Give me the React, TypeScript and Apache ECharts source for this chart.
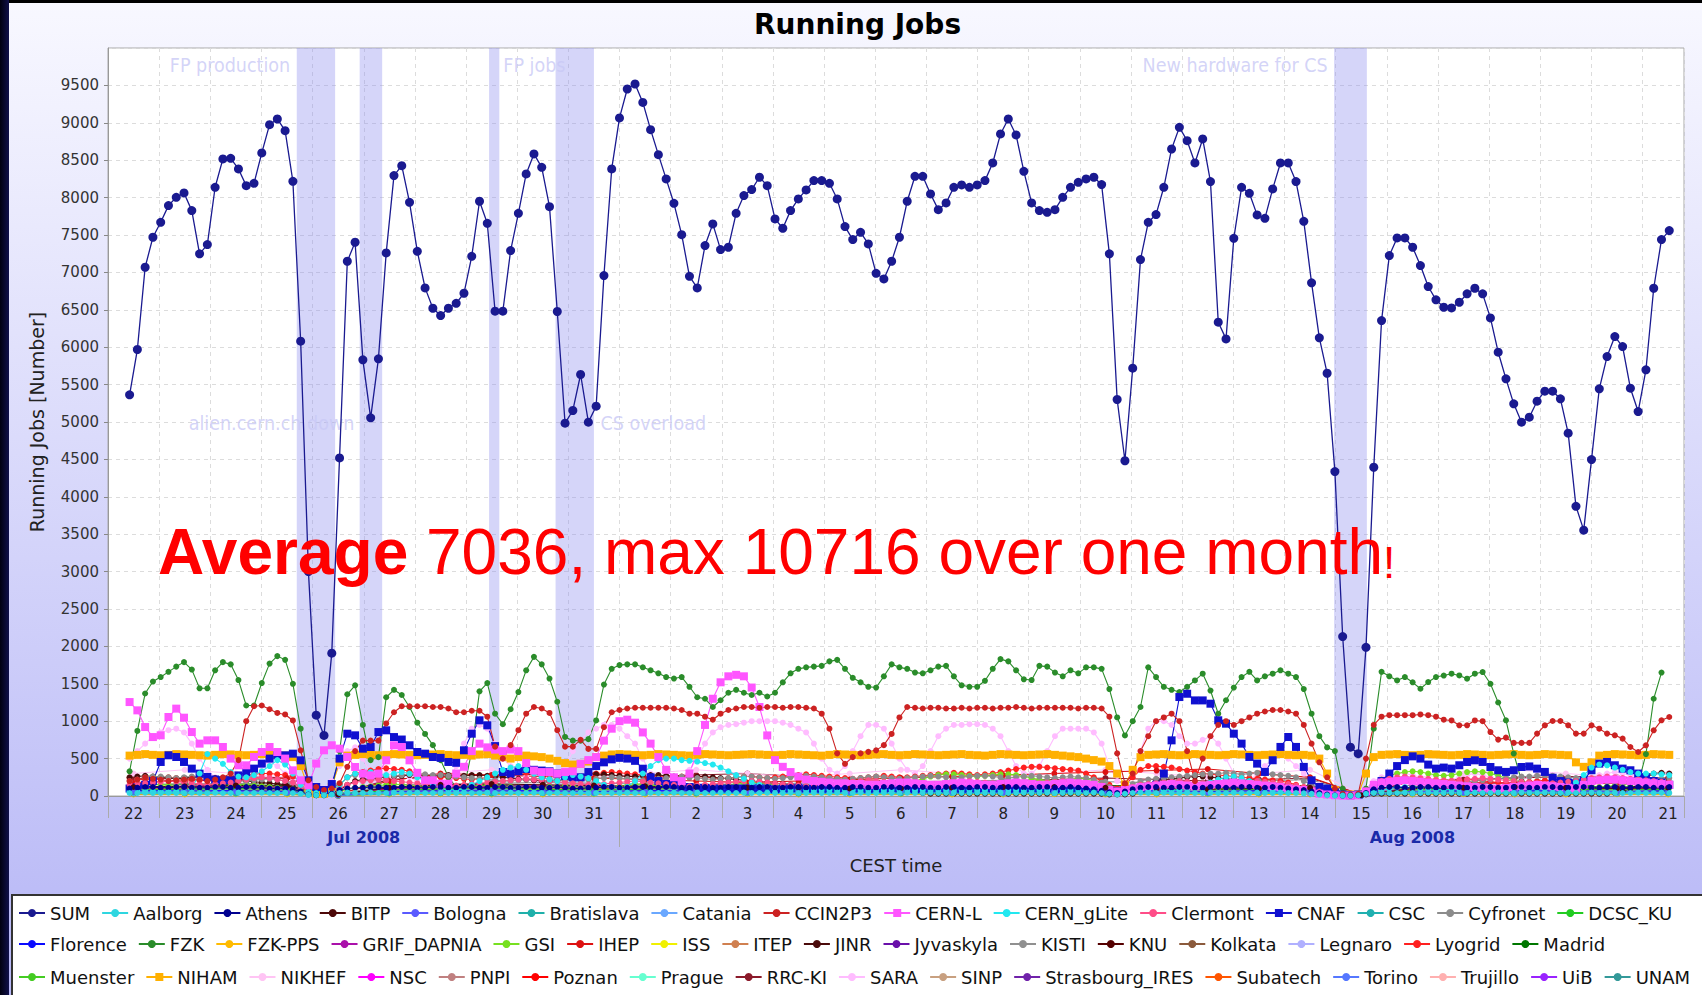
import React, { useEffect, useRef } from 'react';
import * as echarts from 'echarts';

// ---------- axis / time data ----------
const DAY_LABELS = ['22','23','24','25','26','27','28','29','30','31','1','2','3','4','5','6','7','8','9','10','11','12','13','14','15','16','17','18','19','20','21'];
const MONTH_LABELS = [{ at: 5, text: 'Jul 2008' }, { at: 25.5, text: 'Aug 2008' }];
const MONTH_BOUNDARY = [10];
const X_MAX = 30.81;          // days since 22 Jul 00:00
const SAMPLE_START = 0.422;   // first sample (days)
const SAMPLE_STEP = 0.15202;  // sample spacing (days)
const Y_TICKS = { min: 0, max: 10000, step: 500 };

// shaded intervals (days)
const BANDS = [[3.69, 4.44], [4.92, 5.36], [7.45, 7.65], [8.75, 9.5], [23.97, 24.61]];
const NOTES = [
  { text: 'FP production', x: 3.66, y: 9770, side: 'left' },
  { text: 'FP jobs', x: 7.63, y: 9770, side: 'right' },
  { text: 'New hardware for CS', x: 23.94, y: 9770, side: 'left' },
  { text: 'alien.cern.ch down', x: 1.48, y: 4985, side: 'right' },
  { text: 'CS overload', x: 9.53, y: 4985, side: 'right' },
];

// ---------- full-resolution series (one value per sample) ----------
const SUM = [5363,5969,7069,7470,7670,7893,8004,8063,7826,7248,
7372,8138,8517,8525,8383,8160,8191,8597,8975,9051,
8895,8218,6080,3000,1080,810,1910,4520,7149,7403,
5831,5056,5845,7261,8294,8427,7937,7282,6793,6521,
6423,6521,6587,6721,7215,7951,7656,6481,6481,7292,
7790,8316,8584,8405,7879,6477,4984,5154,5635,4998,
5211,6958,8383,9065,9452,9519,9273,8908,8574,8250,
7924,7505,6948,6793,7359,7648,7305,7336,7790,8027,
8107,8272,8160,7715,7590,7826,7982,8103,8227,8227,
8191,7982,7612,7439,7536,7381,6988,6913,7149,7470,
7951,8285,8285,8049,7839,7929,8138,8170,8138,8170,
8227,8463,8851,9051,8838,8351,7929,7826,7803,7839,
8004,8138,8204,8250,8272,8174,7248,5301,4482,5719,
7171,7670,7773,8138,8650,8939,8761,8463,8784,8214,
6334,6111,7456,8138,8057,7769,7723,8116,8463,8463,
8214,7683,6860,6125,5652,4337,2132,653,566,1987,
4395,6356,7225,7461,7461,7336,7091,6811,6633,6534,
6525,6601,6713,6788,6713,6392,5933,5577,5243,4998,
5064,5278,5412,5412,5310,4851,3873,3554,4497,5444,
5875,6142,6009,5452,5140,5698,6788,7439,7559];

const FZK = [330,870,1370,1530,1590,1660,1730,1790,1690,1440,
1440,1680,1790,1760,1550,1210,1210,1510,1770,1870,
1820,1500,900,150,60,40,80,600,1360,1480,
950,480,520,1320,1420,1350,1190,980,830,680,
480,250,120,100,600,1400,1510,1100,960,1160,
1390,1680,1860,1760,1570,1260,790,740,740,760,
1010,1490,1700,1750,1760,1760,1720,1680,1640,1590,
1570,1590,1460,1320,1300,1190,1280,1380,1420,1380,
1350,1380,1330,1380,1520,1640,1700,1720,1730,1740,
1800,1820,1700,1580,1520,1460,1450,1600,1760,1720,
1700,1650,1640,1680,1730,1740,1600,1480,1460,1460,
1540,1700,1830,1800,1680,1560,1550,1740,1730,1650,
1600,1680,1640,1720,1720,1700,1430,1050,810,1000,
1190,1720,1590,1460,1420,1390,1460,1545,1635,1410,
1100,1280,1450,1590,1660,1545,1600,1635,1680,1635,
1590,1430,1100,800,650,600,100,20,20,100,
900,1660,1600,1545,1590,1520,1434,1523,1590,1610,
1635,1612,1568,1635,1657,1500,1250,1012,567,200,
150,150,150,140,130,120,120,130,150,200,
200,200,180,150,160,560,1300,1650,null];

const CCIN2P3 = [200,220,250,230,220,200,210,220,230,220,
200,220,250,300,480,1000,1200,1210,1160,1110,
1090,1010,610,210,120,80,100,170,390,600,
740,740,740,970,1120,1200,1200,1200,1200,1190,
1190,1170,1120,1120,1140,1140,1060,660,500,680,
880,1100,1190,1170,1110,880,660,660,750,630,
630,920,1120,1150,1170,1180,1180,1180,1180,1180,
1170,1150,1100,1100,1060,1020,1100,1150,1170,1190,
1190,1180,1190,1190,1180,1190,1190,1180,1170,1100,
900,570,430,520,570,590,610,680,830,1050,
1190,1180,1170,1180,1180,1170,1170,1180,1170,1180,
1180,1170,1180,1180,1190,1180,1170,1180,1180,1180,
1180,1180,1170,1180,1180,1170,1060,570,170,300,
600,800,1000,1050,1100,1000,600,200,500,800,
950,1000,950,1000,1050,1100,1130,1150,1150,1130,
1100,950,700,450,250,100,30,20,30,500,
950,1060,1080,1080,1080,1080,1090,1080,1060,1020,
1010,945,945,1010,1000,855,754,780,710,710,
710,834,945,1003,1003,945,834,834,945,900,
834,811,767,655,588,678,878,1012,1056];

const NIHAM = [540,550,560,550,545,550,560,555,550,545,
540,550,560,555,550,545,550,560,550,545,
540,520,400,100,30,30,120,450,540,550,
560,550,545,550,560,555,550,545,550,555,
560,550,545,550,540,555,560,540,520,500,
520,540,530,520,500,470,440,420,430,460,
520,540,555,560,555,550,545,550,560,555,
550,545,540,550,560,555,550,545,550,555,
560,555,550,545,550,560,555,550,545,540,
550,560,555,550,545,550,555,560,550,545,
550,560,555,550,545,550,555,560,550,545,
540,550,560,555,550,545,550,555,560,550,
540,530,520,500,480,460,400,300,150,350,
520,550,555,560,550,545,550,560,555,550,
545,550,560,555,550,545,550,555,560,550,
545,550,540,500,300,80,20,20,20,300,
520,550,555,560,550,545,550,560,555,550,
545,550,560,555,550,545,550,555,560,550,
545,550,560,555,550,545,450,390,450,540,
550,560,555,550,545,550,560,555,550];

const CERN_L = [1256,1145,922,788,811,1056,1168,1047,855,700,
744,744,655,500,410,410,521,588,655,588,
500,343,210,143,433,611,678,633,521,388,
299,276,299,477,678,655,477,310,210,210,
165,165,300,390,600,700,650,620,600,620,
600,440,340,320,320,300,320,330,430,480,
520,740,900,1000,1020,980,850,700,520,350,
250,200,300,600,950,1300,1520,1600,1620,1600,
1450,1190,810,480,390,320,260,220,200,190,
180,170,170,160,160,150,150,160,170,180,
180,170,160,150,150,160,170,180,170,160,
150,150,160,170,180,170,160,150,150,160,
170,180,170,160,150,120,80,60,80,100,
120,130,140,150,160,150,140,130,140,150,
160,170,180,170,160,150,140,130,120,100,
90,80,60,30,20,10,5,5,10,60,
150,180,190,200,210,200,190,180,170,160,
150,140,130,120,110,100,100,110,120,130,
140,150,140,130,120,110,100,150,200,210,
220,220,210,200,190,180,170,160,150];

const CNAF = [100,120,150,200,455,544,521,455,366,299,
255,221,210,210,275,320,366,433,500,544,
544,566,477,210,120,80,160,500,833,811,
633,655,855,878,788,755,678,588,566,521,
510,455,444,611,833,1012,945,667,321,300,
330,360,350,340,330,300,270,250,250,320,
400,450,490,510,500,470,365,250,200,160,
150,130,120,110,110,100,100,100,100,100,
100,110,100,90,100,100,110,100,100,90,
100,100,110,100,100,90,100,100,110,100,
100,90,100,100,110,100,100,90,100,100,
110,100,100,90,100,100,110,100,100,90,
100,100,110,100,100,90,80,60,70,90,
100,120,150,300,744,1323,1367,1278,1278,1234,
1012,967,833,700,522,433,322,478,656,789,
656,389,210,120,100,50,20,10,20,50,
100,200,300,400,480,530,500,420,366,380,
366,411,455,477,455,388,344,322,344,388,
395,366,322,244,200,180,170,210,344,433,
455,411,366,344,300,250,200,180,150];

const SARA = [500,600,700,800,850,880,900,850,700,500,
350,250,200,200,250,300,350,400,450,400,
300,200,100,50,50,100,200,400,600,650,
500,300,250,300,350,300,250,200,150,150,
150,200,400,700,900,950,900,700,500,400,
300,250,200,200,250,300,400,600,750,850,
900,950,950,900,800,700,500,300,250,200,
200,250,350,500,700,850,920,950,960,980,
1000,1000,1000,1000,980,950,900,850,700,500,
350,300,400,600,800,950,950,900,700,500,
350,300,400,600,800,900,950,950,960,960,
950,900,800,600,400,300,300,400,600,800,
900,900,900,900,850,700,400,200,150,300,
600,900,1000,1000,950,800,700,700,750,800,
700,500,300,200,200,300,400,500,600,500,
400,300,200,150,100,50,30,30,30,100,
200,250,280,300,300,280,250,220,200,200,
220,250,280,300,280,250,220,200,200,220,
250,280,300,280,250,220,200,220,250,280,
300,320,300,280,250,220,200,200,200];

const CERN_GLITE = [60,60,60,60,60,60,60,60,100,300,
560,500,430,320,260,250,280,330,400,480,
420,300,150,60,40,40,60,150,250,300,
300,320,300,280,300,320,300,250,200,150,
100,80,80,100,150,200,250,300,350,380,
400,350,300,250,220,200,250,280,260,240,
200,150,120,100,120,200,300,400,480,500,
500,480,470,460,440,420,380,330,280,230,
180,150,120,100,90,80,80,80,80,80,
80,80,80,80,80,80,80,80,80,80,
80,80,80,80,80,80,80,80,80,80,
80,80,80,80,80,80,80,80,80,80,
80,80,80,80,80,80,60,40,40,60,
80,80,80,80,80,80,100,120,150,180,
220,250,260,240,200,150,100,80,80,60,
50,40,30,20,10,10,10,10,20,40,
60,80,100,120,120,110,100,100,90,90,
90,90,90,90,90,90,90,90,100,100,
100,100,100,100,100,120,180,280,380,420,
410,380,350,320,300,300,300,290,280];

const ATHENS = [100,110,120,120,110,110,120,120,110,110,
110,120,120,110,110,120,120,110,100,100,
100,90,60,20,10,10,30,80,100,110,
110,120,120,110,110,120,120,110,110,120,
120,110,110,120,120,110,110,120,120,110,
110,120,120,110,110,120,110,100,100,110,
110,120,120,110,110,120,120,110,110,120,
120,110,110,120,120,110,110,120,120,110,
110,120,120,110,110,120,120,110,110,120,
120,110,110,120,120,110,110,120,120,110,
110,120,120,110,110,120,120,110,110,120,
120,110,110,120,120,110,110,120,120,110,
110,120,110,100,90,70,50,40,60,90,
110,120,120,110,110,120,120,110,110,120,
120,110,110,120,120,110,110,120,110,100,
90,80,60,40,20,10,5,5,10,40,
90,110,120,120,110,110,120,120,110,110,
120,120,110,110,120,120,110,110,120,120,
110,110,120,120,110,110,120,120,110,110,
120,120,110,110,120,120,110,110,120];

const AALBORG = [40,40,45,40,40,45,40,40,45,40,
40,45,40,40,45,40,40,45,40,40,
45,40,30,15,10,10,20,40,45,40,
40,45,40,40,45,40,40,45,40,40,
45,40,40,45,40,40,45,40,40,45,
40,40,45,40,40,45,40,40,45,40,
40,45,40,40,45,40,40,45,40,40,
45,40,40,45,40,40,45,40,40,45,
40,40,45,40,40,45,40,40,45,40,
40,45,40,40,45,40,40,45,40,40,
45,40,40,45,40,40,45,40,40,45,
40,40,45,40,40,45,40,40,45,40,
40,45,40,40,45,40,30,20,30,40,
45,40,40,45,40,40,45,40,40,45,
40,40,45,40,40,45,40,40,45,40,
40,35,30,20,10,5,5,5,10,30,
40,45,40,40,45,40,40,45,40,40,
45,40,40,45,40,40,45,40,40,45,
40,40,45,40,40,45,40,40,45,40,
40,45,40,40,45,40,40,45,40];

const LYOGRID = [240,230,220,230,240,250,240,230,220,210,
200,210,220,230,250,270,290,300,300,290,
280,260,200,100,50,40,60,150,250,300,
320,340,360,370,360,350,330,300,280,260,
250,250,240,230,220,230,250,270,280,290,
300,310,300,290,280,270,260,250,260,280,
300,310,320,310,300,290,280,270,260,250,
250,260,270,260,250,240,230,240,250,260,
260,250,240,250,260,270,280,290,280,270,
260,250,240,230,240,250,260,270,260,250,
250,260,270,280,290,300,310,300,290,280,
290,300,320,340,360,380,390,390,380,370,
360,350,340,300,250,200,150,100,150,250,
350,400,400,390,380,360,340,320,300,290,
280,270,260,250,240,230,220,210,200,180,
150,120,80,50,30,20,10,10,20,80,
150,200,220,230,240,230,220,210,200,200,
200,210,220,210,200,190,180,170,170,180,
190,200,210,200,190,180,170,170,180,190,
200,210,200,190,180,170,170,160,160];

const CYFRONET = [200,220,250,260,260,250,240,250,260,250,
240,230,220,210,200,200,210,220,230,220,
200,180,120,50,20,20,50,150,250,280,
290,280,270,260,270,280,290,300,290,280,
280,270,260,250,240,230,220,210,200,200,
210,220,230,240,230,220,210,200,210,220,
230,240,250,240,230,220,210,220,230,240,
250,260,250,240,230,220,230,240,250,260,
260,250,240,230,240,250,260,270,260,250,
240,230,220,230,240,250,260,250,240,230,
240,250,260,270,260,250,240,250,260,270,
270,260,250,240,250,260,270,260,250,240,
250,260,250,240,220,180,120,80,100,160,
200,220,230,240,250,260,270,280,290,300,
300,310,300,290,300,310,300,290,280,270,
250,200,150,100,50,20,10,10,20,80,
150,180,200,210,220,210,200,190,180,170,
170,180,190,200,210,220,230,240,250,260,
260,270,280,270,260,250,240,230,220,210,
200,190,180,190,200,210,220,230,240];

const JINR = [250,260,270,260,250,240,230,240,250,260,
250,240,230,220,210,200,190,180,170,160,
150,120,80,30,10,10,30,80,150,200,
220,230,240,250,260,270,280,280,270,270,
280,280,270,270,280,280,270,260,250,240,
230,220,210,200,200,210,220,240,260,280,
290,290,280,270,260,260,270,280,280,270,
260,250,250,260,260,250,240,230,220,210,
200,190,180,170,160,150,140,130,120,110,
100,100,100,90,90,90,80,80,80,70,
60,50,40,30,30,30,30,30,30,30,
30,30,30,30,30,30,30,30,30,30,
30,30,30,30,30,30,20,20,20,30,
100,150,200,220,230,240,250,260,260,250,
240,230,220,210,200,190,180,170,160,150,
120,90,60,30,10,5,5,5,10,20,
30,30,30,30,30,30,30,30,30,30,
30,30,30,30,30,30,30,30,30,30,
30,30,30,30,30,30,30,30,30,30,
30,40,60,100,150,250,300,310,300];

const CLERMONT = [150,160,170,180,190,200,190,180,170,160,
150,160,170,180,200,220,240,250,240,220,
200,180,120,50,20,20,50,100,150,180,
200,210,220,210,200,190,180,170,160,150,
140,130,140,150,160,170,180,190,200,210,
220,230,220,210,200,190,180,170,160,150,
150,160,170,180,190,200,190,180,170,160,
150,140,130,140,150,160,170,180,190,200,
200,190,180,170,160,150,140,130,140,150,
160,170,180,190,200,210,200,190,180,170,
160,150,140,150,160,170,180,190,200,190,
180,170,160,150,140,150,160,170,180,190,
200,190,180,170,160,140,100,60,80,120,
150,160,170,180,190,200,190,180,170,160,
150,160,170,180,190,200,190,180,170,160,
140,120,100,60,30,10,5,5,10,60,
150,200,230,250,260,250,240,230,220,210,
200,210,220,230,240,230,220,210,200,190,
180,170,160,170,180,190,200,220,240,250,
260,250,240,230,220,210,200,190,180];

const GSI = [120,130,140,150,150,140,130,120,110,100,
100,110,120,130,140,150,140,130,120,110,
100,90,60,30,10,10,30,60,90,110,
120,130,140,150,160,150,140,130,120,110,
100,100,110,120,130,140,150,140,130,120,
110,100,100,110,120,130,140,130,120,110,
100,110,120,130,140,150,160,150,140,130,
120,110,100,110,120,130,140,150,160,170,
180,170,160,150,140,130,120,130,140,150,
160,170,180,190,200,190,180,170,160,170,
180,200,230,260,280,290,290,280,270,260,
270,280,290,290,280,260,240,220,200,190,
200,220,240,230,200,150,100,60,80,120,
150,160,170,180,170,160,150,140,130,120,
110,100,110,120,130,140,150,140,130,120,
100,80,60,40,20,10,5,5,10,60,
150,220,270,300,320,330,320,300,280,270,
280,300,320,330,320,300,270,240,210,190,
170,160,150,140,130,120,110,100,110,120,
130,140,150,160,150,140,130,120,110];

// ---------- minor series (one value per day, 22 Jul .. 21 Aug) ----------
const BITP = [120,130,140,130,20,110,150,160,150,140,130,120,110,110,100,100,110,120,120,110,100,90,100,110,10,100,110,120,110,100,110];
const BOLOGNA = [60,70,60,50,10,50,60,70,60,50,60,70,60,50,60,70,60,50,60,70,60,50,60,70,5,60,50,60,70,60,50];
const BRATISLAVA = [50,55,50,45,10,40,50,55,50,45,50,55,50,45,50,55,50,45,50,55,50,45,50,55,5,50,45,50,55,50,45];
const CATANIA = [40,45,50,45,10,40,45,50,45,40,45,50,45,40,45,50,45,40,45,50,45,40,45,50,5,40,45,50,45,40,45];
const CSC = [30,35,30,35,5,30,35,30,35,30,35,30,35,30,35,30,35,30,35,30,35,30,35,30,5,30,35,30,35,30,35];
const DCSC_KU = [80,90,100,90,10,80,90,100,90,80,90,100,90,80,90,100,90,80,90,100,90,80,90,100,10,80,90,100,90,80,90];
const FLORENCE = [70,80,70,60,10,60,70,80,70,60,70,80,70,60,70,80,70,60,70,80,70,60,70,80,5,60,70,80,70,60,70];
const FZK_PPS = [20,20,25,20,5,20,25,20,20,25,20,20,25,20,20,25,20,20,25,20,20,25,20,20,5,20,25,20,20,25,20];
const GRIF_DAPNIA = [120,130,120,110,20,100,120,130,140,130,120,110,120,130,120,110,120,130,120,110,100,120,130,120,10,110,120,130,120,110,120];
const IHEP = [180,200,220,240,30,200,300,280,260,240,220,200,180,200,220,240,260,280,300,320,340,360,300,250,20,200,180,170,160,170,180];
const ISS = [30,35,40,35,5,30,35,40,35,30,35,40,35,30,35,40,35,30,35,40,35,30,35,40,5,30,35,40,35,30,35];
const ITEP = [90,100,110,100,10,90,100,110,100,90,100,110,100,90,100,110,100,90,100,110,100,90,100,110,10,90,100,110,100,90,100];
const JYVASKYLA = [50,55,60,55,10,50,55,60,55,50,55,60,55,50,55,60,55,50,55,60,55,50,55,60,5,50,55,60,55,50,55];
const KISTI = [150,160,170,160,20,150,160,170,180,170,160,150,160,170,180,190,200,210,200,190,180,170,200,220,20,150,160,170,180,170,160];
const KNU = [40,45,40,35,5,40,45,40,35,40,45,40,35,40,45,40,35,40,45,40,35,40,45,40,5,30,30,30,30,30,40];
const KOLKATA = [60,65,70,65,10,60,65,70,65,60,65,70,65,60,65,70,65,60,65,70,65,60,65,70,5,60,65,70,65,60,65];
const LEGNARO = [80,90,80,70,10,70,80,90,80,70,80,90,80,70,80,90,80,70,80,90,80,70,80,90,10,70,80,90,80,70,80];
const MADRID = [150,160,150,140,20,120,130,140,130,120,130,140,130,120,130,140,130,120,130,140,130,120,130,140,10,120,130,140,130,120,130];
const MUENSTER = [60,70,80,70,10,60,70,80,70,60,70,80,70,60,70,80,70,60,70,80,70,60,70,80,5,60,70,80,70,60,70];
const NIKHEF = [300,350,300,250,30,250,300,350,300,250,300,350,300,250,300,350,300,250,300,350,300,250,300,350,20,250,300,350,300,250,300];
const NSC = [120,130,140,130,20,120,130,140,130,120,130,140,130,120,130,140,130,120,130,140,130,120,130,140,10,150,170,180,190,200,180];
const PNPI = [80,85,90,85,10,80,85,90,85,80,85,90,85,80,85,90,85,80,85,90,85,80,85,90,5,80,85,90,85,80,85];
const POZNAN = [100,110,120,110,10,100,110,120,110,100,110,120,110,100,110,120,110,100,110,120,110,100,110,120,10,100,110,120,110,100,110];
const PRAGUE = [60,65,70,65,10,60,65,70,65,60,65,70,65,60,65,70,65,60,65,70,65,60,65,70,5,60,65,70,65,60,65];
const RRC_KI = [220,240,260,240,30,220,260,280,290,280,260,280,300,260,220,200,180,200,220,240,220,200,220,240,20,200,220,240,260,250,240];
const SINP = [50,55,60,55,10,50,55,60,55,50,55,60,55,50,55,60,55,50,55,60,55,50,55,60,5,50,55,60,55,50,55];
const STRASBOURG = [40,45,50,45,5,40,45,50,45,40,45,50,45,40,45,50,45,40,45,50,45,40,45,50,5,40,45,50,45,40,45];
const SUBATECH = [80,90,100,90,10,80,90,100,90,80,90,100,90,80,90,100,90,80,90,100,90,80,90,100,10,80,90,100,90,80,90];
const TORINO = [100,110,120,110,10,100,110,120,110,100,110,120,110,100,110,120,110,100,110,120,110,100,110,120,10,100,110,120,110,100,110];
const TRUJILLO = [50,60,70,60,10,50,60,70,60,50,60,70,60,50,60,70,60,50,60,70,60,50,60,70,5,50,60,70,60,50,60];
const UIB = [60,70,60,50,10,60,70,60,50,60,70,60,50,60,70,60,50,60,70,60,50,60,70,60,5,60,70,60,50,60,70];
const UNAM = [40,45,40,35,5,40,45,40,35,40,45,40,35,40,45,40,35,40,45,40,35,40,45,40,5,40,45,40,35,40,45];

// ---------- series table (legend order) ----------
type Meta = { name: string; color: string; symbol?: string; data: (number | null)[]; daily?: boolean };
const SERIES_META: Meta[] = [
  { name: 'SUM', color: '#1a1a90', data: SUM },
  { name: 'Aalborg', color: '#2ed6e0', data: AALBORG },
  { name: 'Athens', color: '#000090', data: ATHENS },
  { name: 'BITP', color: '#4d0808', data: BITP, daily: true },
  { name: 'Bologna', color: '#5a5aff', data: BOLOGNA, daily: true },
  { name: 'Bratislava', color: '#1fb0aa', data: BRATISLAVA, daily: true },
  { name: 'Catania', color: '#6aa8ff', data: CATANIA, daily: true },
  { name: 'CCIN2P3', color: '#cc2222', data: CCIN2P3 },
  { name: 'CERN-L', color: '#ff55ff', symbol: 'rect', data: CERN_L },
  { name: 'CERN_gLite', color: '#22e8f0', data: CERN_GLITE },
  { name: 'Clermont', color: '#ff4d88', data: CLERMONT },
  { name: 'CNAF', color: '#1010d0', symbol: 'rect', data: CNAF },
  { name: 'CSC', color: '#20b0b0', data: CSC, daily: true },
  { name: 'Cyfronet', color: '#8c8c8c', data: CYFRONET },
  { name: 'DCSC_KU', color: '#22cc22', data: DCSC_KU, daily: true },
  { name: 'Florence', color: '#0a0aff', data: FLORENCE, daily: true },
  { name: 'FZK', color: '#2a8c2a', data: FZK },
  { name: 'FZK-PPS', color: '#ffbb00', data: FZK_PPS, daily: true },
  { name: 'GRIF_DAPNIA', color: '#aa10aa', data: GRIF_DAPNIA, daily: true },
  { name: 'GSI', color: '#77e020', data: GSI },
  { name: 'IHEP', color: '#dd1111', data: IHEP, daily: true },
  { name: 'ISS', color: '#f0f000', data: ISS, daily: true },
  { name: 'ITEP', color: '#d08050', data: ITEP, daily: true },
  { name: 'JINR', color: '#4a0a0a', data: JINR },
  { name: 'Jyvaskyla', color: '#6a10aa', data: JYVASKYLA, daily: true },
  { name: 'KISTI', color: '#909090', data: KISTI, daily: true },
  { name: 'KNU', color: '#550000', data: KNU, daily: true },
  { name: 'Kolkata', color: '#8b5a3c', data: KOLKATA, daily: true },
  { name: 'Legnaro', color: '#b0b0ff', data: LEGNARO, daily: true },
  { name: 'Lyogrid', color: '#ff2020', data: LYOGRID },
  { name: 'Madrid', color: '#007700', data: MADRID, daily: true },
  { name: 'Muenster', color: '#44cc22', data: MUENSTER, daily: true },
  { name: 'NIHAM', color: '#ffb000', symbol: 'rect', data: NIHAM },
  { name: 'NIKHEF', color: '#ffc4f4', data: NIKHEF, daily: true },
  { name: 'NSC', color: '#ff00ff', data: NSC, daily: true },
  { name: 'PNPI', color: '#c08080', data: PNPI, daily: true },
  { name: 'Poznan', color: '#ff0000', data: POZNAN, daily: true },
  { name: 'Prague', color: '#66ffd0', data: PRAGUE, daily: true },
  { name: 'RRC-KI', color: '#8b1a2a', data: RRC_KI, daily: true },
  { name: 'SARA', color: '#ffbcff', data: SARA },
  { name: 'SINP', color: '#c8a080', data: SINP, daily: true },
  { name: 'Strasbourg_IRES', color: '#7022aa', data: STRASBOURG, daily: true },
  { name: 'Subatech', color: '#ff5500', data: SUBATECH, daily: true },
  { name: 'Torino', color: '#5577ff', data: TORINO, daily: true },
  { name: 'Trujillo', color: '#ffb0b0', data: TRUJILLO, daily: true },
  { name: 'UiB', color: '#9922ff', data: UIB, daily: true },
  { name: 'UNAM', color: '#339999', data: UNAM, daily: true },
];
const LEGEND_ROWS = [SERIES_META.slice(0, 15), SERIES_META.slice(15, 31), SERIES_META.slice(31)];
const LEGEND_TOPS = [904, 935, 968];

const FONT = 'DejaVu Sans';

function buildOption() {
  const lineSeries = SERIES_META.map((m) => {
    const data = m.daily
      ? m.data.map((v, k) => [k + 0.5, v])
      : m.data.map((v, i) => [SAMPLE_START + i * SAMPLE_STEP, v]);
    const isSum = m.name === 'SUM';
    return {
      name: m.name,
      type: 'line',
      data,
      xAxisIndex: 0,
      yAxisIndex: 0,
      symbol: m.symbol || 'circle',
      symbolSize: isSum ? 9 : m.symbol === 'rect' ? 8 : 6,
      showSymbol: true,
      silent: true,
      connectNulls: false,
      lineStyle: { color: m.color, width: isSum ? 1.3 : 1.1 },
      itemStyle: { color: m.color },
      emphasis: { disabled: true },
    };
  }).reverse();

  const notesSeries = {
    name: 'notes',
    type: 'scatter',
    silent: true,
    symbolSize: 0,
    xAxisIndex: 0,
    yAxisIndex: 0,
    data: NOTES.map((n) => ({ value: [n.x, n.y], label: { position: n.side } })),
    label: {
      show: true,
      formatter: (p: any) => NOTES[p.dataIndex].text,
      color: '#c9c9f6',
      fontSize: 19.5,
      fontFamily: 'DejaVu Sans Condensed',
      distance: 5,
    },
    markArea: {
      silent: true,
      itemStyle: { color: 'rgba(140,140,240,0.37)' },
      data: BANDS.map((b) => [{ xAxis: b[0] }, { xAxis: b[1] }]),
    },
  };

  return {
    animation: false,
    backgroundColor: 'transparent',
    title: {
      text: 'Running Jobs',
      left: 749,
      top: 5,
      textStyle: { fontSize: 28, fontWeight: 'bold', fontFamily: FONT, color: '#000' },
    },
    legend: LEGEND_ROWS.map((row, r) => ({
      data: row.map((m) => m.name),
      left: 18,
      top: LEGEND_TOPS[r],
      width: 1750,
      orient: 'horizontal',
      padding: 0,
      itemGap: 11,
      itemWidth: 26,
      itemHeight: 10,
      selectedMode: false,
      textStyle: { fontSize: 18, fontFamily: FONT, color: '#111' },
    })),
    grid: {
      left: 108,
      top: 48,
      right: 18,
      bottom: 199,
      show: true,
      backgroundColor: '#ffffff',
      borderColor: '#a8a8a8',
      borderWidth: 1,
    },
    xAxis: [
      {
        type: 'value',
        min: 0,
        max: X_MAX,
        interval: 1,
        name: 'CEST time',
        nameLocation: 'middle',
        nameGap: 60,
        nameTextStyle: { fontSize: 18, fontFamily: FONT, color: '#222' },
        axisLine: { show: true, lineStyle: { color: '#999' } },
        axisTick: { show: true, length: 22, lineStyle: { color: '#aaa' } },
        axisLabel: { show: false },
        splitLine: { show: true, lineStyle: { color: '#dcdcdc', type: [4, 4] } },
      },
      {
        type: 'value',
        min: 0,
        max: X_MAX,
        position: 'bottom',
        offset: 0,
        axisLine: { show: false },
        axisTick: { show: false },
        splitLine: { show: false },
        axisLabel: {
          show: true,
          customValues: DAY_LABELS.map((_, k) => k + 0.5),
          formatter: (v: number) => DAY_LABELS[Math.round(v - 0.5)] ?? '',
          margin: 10,
          fontSize: 15,
          fontFamily: FONT,
          color: '#222',
        },
      },
      {
        type: 'value',
        min: 0,
        max: X_MAX,
        position: 'bottom',
        offset: 0,
        axisLine: { show: false },
        axisTick: { show: true, customValues: MONTH_BOUNDARY, length: 51, lineStyle: { color: '#aaa' } },
        splitLine: { show: false },
        axisLabel: {
          show: true,
          customValues: MONTH_LABELS.map((m) => m.at),
          formatter: (v: number) => (MONTH_LABELS.find((m) => Math.abs(m.at - v) < 0.01)?.text ?? ''),
          margin: 33,
          fontSize: 16,
          fontWeight: 'bold',
          fontFamily: FONT,
          color: '#1a2aa8',
        },
      },
    ],
    yAxis: {
      type: 'value',
      min: Y_TICKS.min,
      max: Y_TICKS.max,
      interval: Y_TICKS.step,
      name: 'Running Jobs [Number]',
      nameLocation: 'middle',
      nameGap: 62,
      nameTextStyle: { fontSize: 19, fontFamily: FONT, color: '#222' },
      axisLine: { show: true, lineStyle: { color: '#999' } },
      axisTick: { show: true, length: 4, lineStyle: { color: '#888' } },
      axisLabel: {
        showMaxLabel: false,
        margin: 9,
        fontSize: 15,
        fontFamily: FONT,
        color: '#333',
        formatter: (v: number) => String(v),
      },
      splitLine: { show: true, lineStyle: { color: '#dcdcdc', type: [4, 4] } },
    },
    graphic: [
      {
        type: 'rect', z: -100, silent: true,
        shape: { x: 0, y: 0, width: 1702, height: 995 },
        style: {
          fill: new echarts.graphic.LinearGradient(0, 0, 0, 1, [
            { offset: 0, color: '#f8f8ff' },
            { offset: 1, color: '#b6b6f6' },
          ]),
        },
      },
      { type: 'rect', z: -90, silent: true, shape: { x: 0, y: 0, width: 1702, height: 3 }, style: { fill: '#000' } },
      {
        type: 'rect', z: -90, silent: true, shape: { x: 0, y: 0, width: 9, height: 995 },
        style: {
          fill: new echarts.graphic.LinearGradient(0, 0, 1, 0, [
            { offset: 0, color: '#000010' },
            { offset: 1, color: '#10104a' },
          ]),
        },
      },
      {
        type: 'rect', z: -80, silent: true,
        shape: { x: 12, y: 895, width: 1700, height: 110 },
        style: { fill: '#ffffff', stroke: '#333', lineWidth: 2 },
      },
      {
        type: 'text', z: 100, silent: true,
        x: 158, y: 549,
        style: {
          text: '{a|Average} {b|7036, max 10716 over one month}{c|!}',
          fill: '#ff0000',
          verticalAlign: 'middle',
          align: 'left',
          font: '64px "Liberation Sans", Arial, sans-serif',
          rich: {
            a: { fontSize: 64, fontWeight: 'bold', fontFamily: 'Liberation Sans', fill: '#ff0000', verticalAlign: 'bottom', lineHeight: 70 },
            b: { fontSize: 64, fontFamily: 'Liberation Sans', fill: '#ff0000', verticalAlign: 'bottom', lineHeight: 70 },
            c: { fontSize: 44, fontFamily: 'Liberation Sans', fill: '#ff0000', verticalAlign: 'bottom', lineHeight: 62 },
          },
        },
      },
    ],
    series: [notesSeries, ...lineSeries],
  };
}

export default function App() {
  const ref = useRef<HTMLDivElement>(null);
  useEffect(() => {
    document.body.style.margin = '0';
    document.body.style.overflow = 'hidden';
    const chart = echarts.init(ref.current as HTMLDivElement, null, { renderer: 'svg' });
    chart.setOption(buildOption() as any);
    return () => chart.dispose();
  }, []);
  return <div ref={ref} style={{ position: 'absolute', left: 0, top: 0, width: 1702, height: 995 }} />;
}
